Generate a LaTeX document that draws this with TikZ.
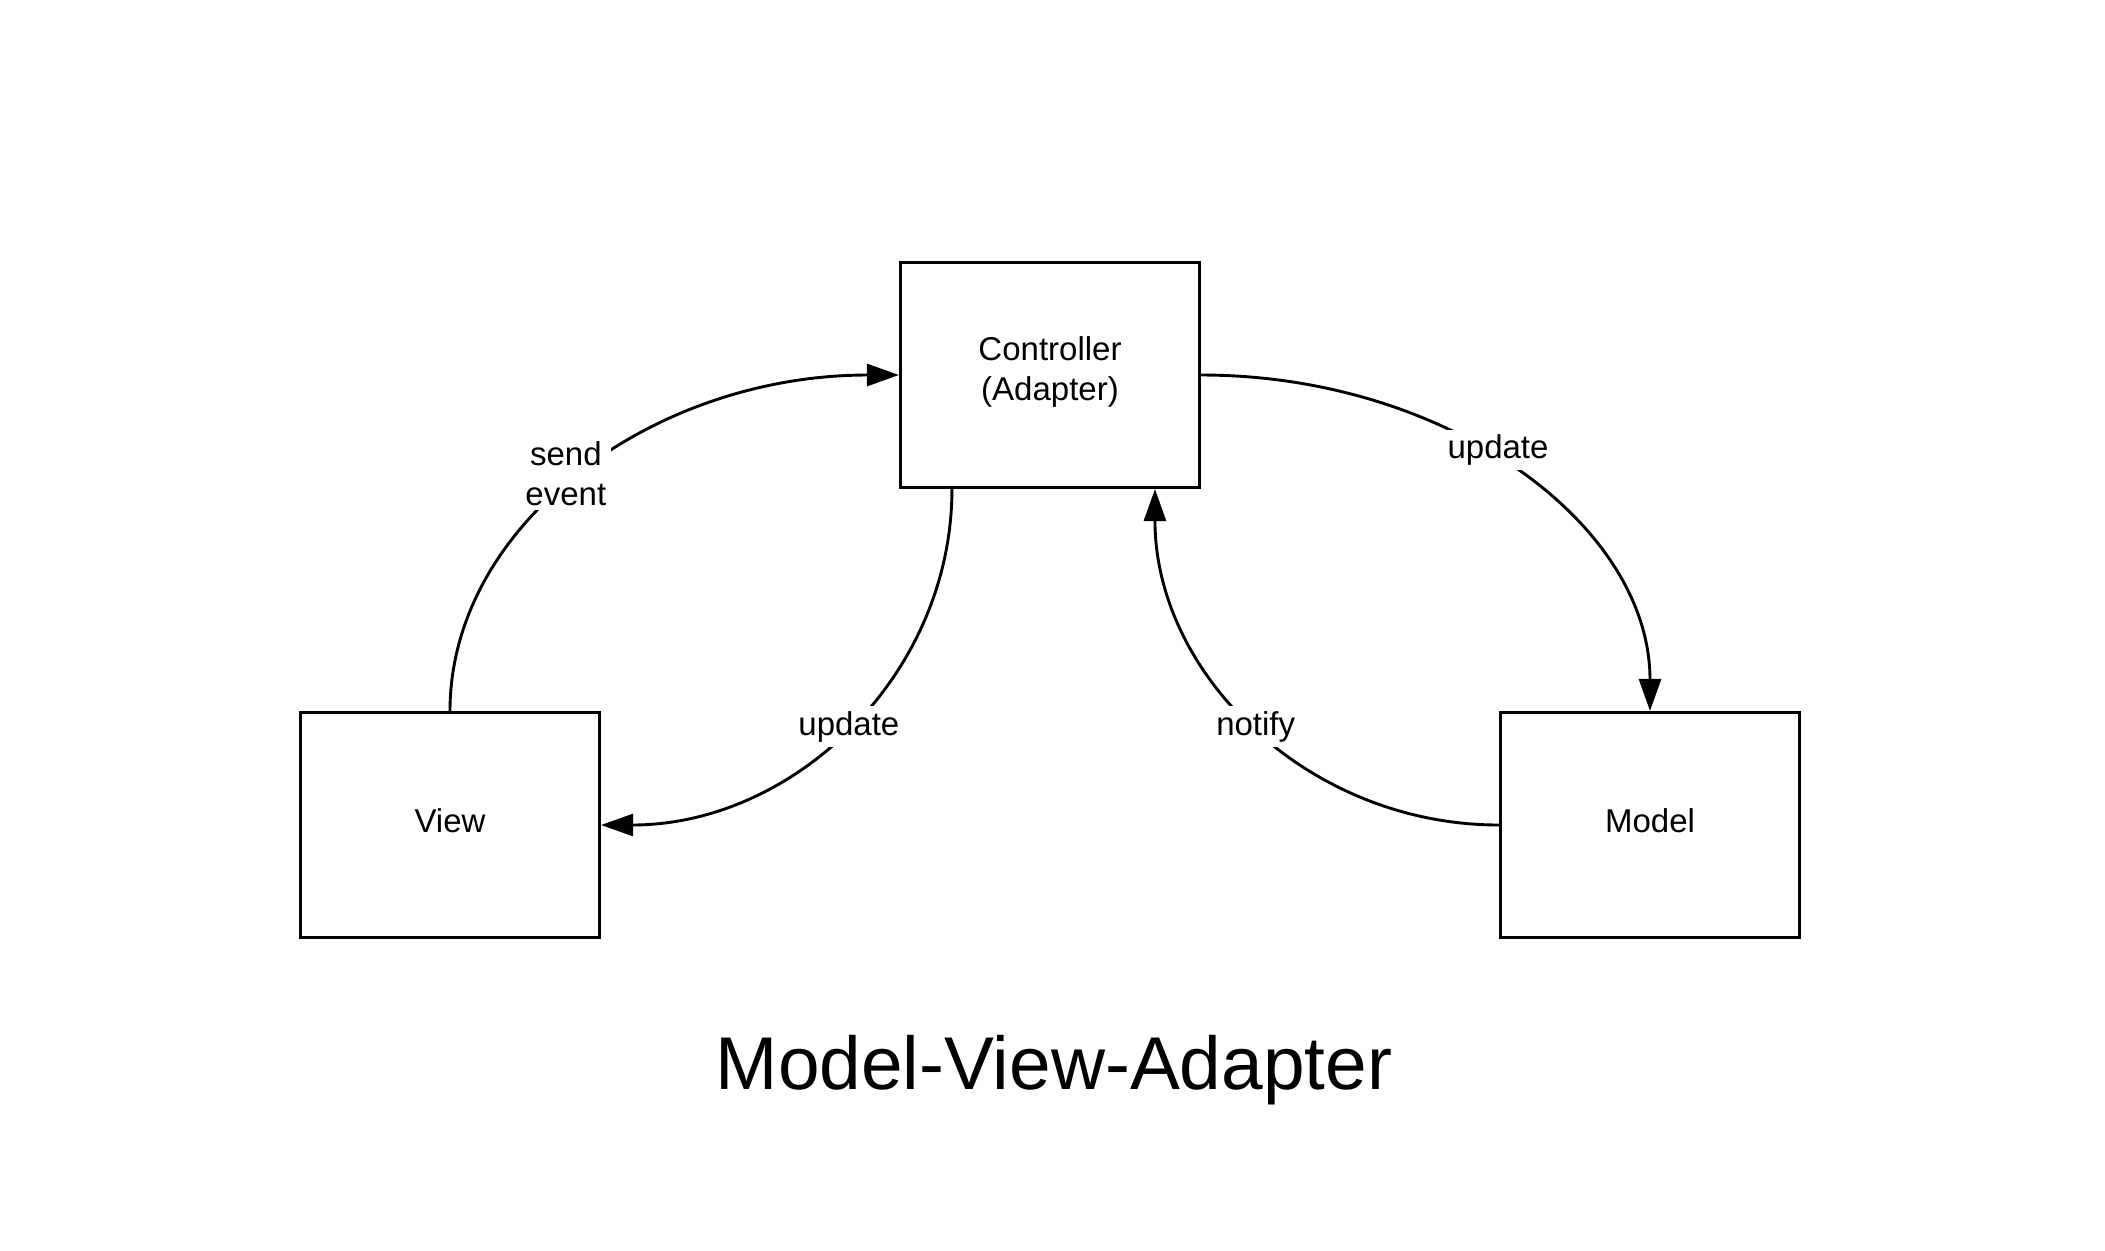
\documentclass[tikz,border=0pt]{standalone}
\usepackage{fontspec}
\setmainfont{Liberation Sans}
\usetikzlibrary{arrows.meta,calc}
\begin{document}
\begin{tikzpicture}[x=0.5pt,y=-0.5pt,
  box/.style={draw=black, line width=1.55pt, fill=white, minimum width=149.5pt, minimum height=112.5pt, inner sep=0pt, align=center, text depth=4pt, font=\fontsize{16.5}{20}\selectfont},
  conn/.style={line width=1.45pt, -{Triangle[length=16pt,width=11pt]}},
  lbl/.style={fill=white, inner sep=2.5pt, align=center, font=\fontsize{16.5}{20}\selectfont}]
\useasboundingbox (0,0) rectangle (2105,1250);
\node[box, text depth=6.5pt] (ctrl) at (1050,375) {Controller\\(Adapter)};
\node[box] (view) at (450,825) {View};
\node[box] (model) at (1650,825) {Model};
\node[font=\fontsize{37.4}{45}\selectfont, anchor=base] (title) at (1054,1089) {Model-View-Adapter};
\coordinate (cs1) at ($(ctrl.south west)+(53,0)$);
\coordinate (cs2) at ($(ctrl.south west)+(256,0)$);
\draw[conn] (view.north) .. controls +(0,-186) and +(-247,0) .. node[lbl, pos=0.5, xshift=-8pt] {send\\event} (ctrl.west);
\draw[conn] (ctrl.east) .. controls +(247,0) and +(0,-186) .. node[lbl, pos=0.46, yshift=4.5pt] {update} (model.north);
\draw[conn] (cs1) .. controls +(0,186) and +(193,0) .. node[lbl, pos=0.5] {update} (view.east);
\draw[conn] (model.west) .. controls +(-190,0) and +(0,186) .. node[lbl, pos=0.5] {notify} (cs2);
\end{tikzpicture}
\end{document}
